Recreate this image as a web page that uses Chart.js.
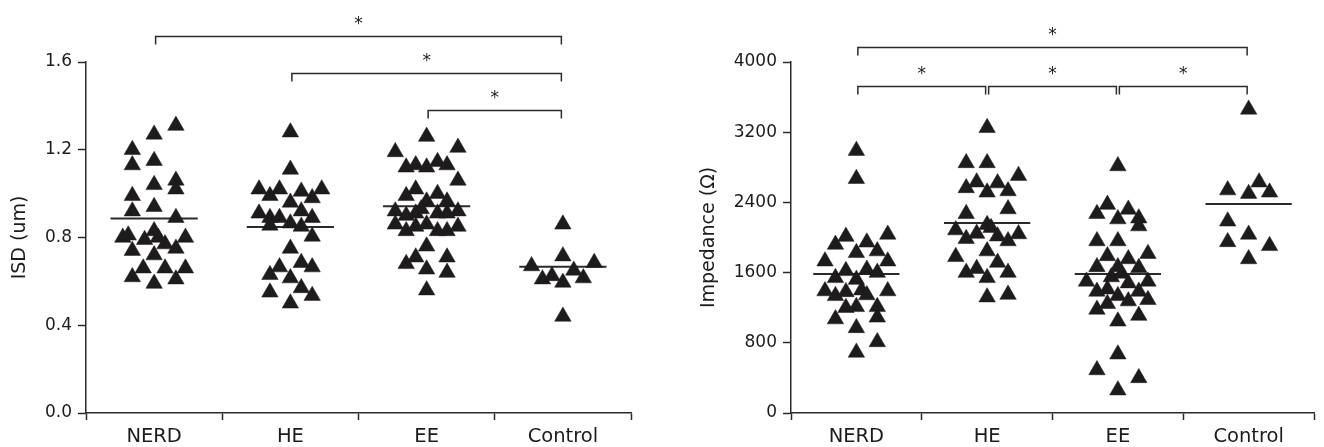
<!DOCTYPE html>
<html><head><meta charset="utf-8">
<script src="https://cdn.jsdelivr.net/npm/chart.js@4"></script>
<style>
html,body{margin:0;padding:0;background:#fff;}
#wrap{position:relative;width:1324px;height:447px;overflow:hidden;}
canvas{position:absolute;top:0;}
#c1{left:0;} #c2{left:650px;}
</style></head><body>
<div id="wrap"><canvas id="c1" width="650" height="447"></canvas><canvas id="c2" width="674" height="447"></canvas></div>
<script>
// ---------- data ----------
const categories = ['NERD', 'HE', 'EE', 'Control'];

// Left panel: ISD (um)  — values and horizontal jitter (in category units)
const isdNerdY = [1.31,1.27,1.20,1.15,1.13,1.04,1.06,1.02,0.99,0.94,0.92,0.89,0.80,0.81,0.74,0.83,0.79,0.80,0.77,0.75,0.80,0.72,0.66,0.66,0.66,0.62,0.61,0.59];
const isdNerdX = [0.16,0,-0.16,0,-0.16,0,0.16,0.16,-0.16,0,-0.16,0.16,-0.23,-0.19,-0.16,0,-0.07,0.03,0.08,0.16,0.23,0,-0.08,0.08,0.23,-0.16,0.16,0];
const isdHeY = [1.28,1.11,1.02,1.02,1.01,1.02,0.99,0.98,0.96,0.91,0.92,0.89,0.89,0.89,0.855,0.865,0.85,0.805,0.75,0.665,0.685,0.665,0.63,0.615,0.55,0.57,0.535,0.50];
const isdHeX = [0,0,-0.23,-0.08,0.08,0.23,-0.15,0.16,0,-0.23,0.08,-0.15,-0.08,0.16,-0.15,0,0.08,0.16,0,-0.08,0.08,0.16,-0.15,0,-0.15,0.08,0.16,0];
const isdEeY = [1.26,1.19,1.21,1.12,1.13,1.12,1.145,1.13,1.06,0.99,1.02,1.0,0.965,0.965,0.92,0.93,0.92,0.90,0.91,0.91,0.91,0.86,0.83,0.85,0.86,0.83,0.83,0.85,0.76,0.71,0.68,0.71,0.655,0.64,0.56];
const isdEeX = [0,-0.23,0.23,-0.15,-0.08,0,0.08,0.15,0.23,-0.15,-0.08,0.08,0,0.15,-0.23,-0.04,0.23,-0.15,-0.08,0.08,0.15,-0.23,-0.15,-0.08,0,0.08,0.15,0.23,0,-0.08,-0.15,0.15,0,0.15,0];
const isdCtrlY = [0.86,0.715,0.67,0.685,0.65,0.61,0.625,0.595,0.615,0.44];
const isdCtrlX = [0,0,-0.23,0.23,0.08,-0.15,-0.08,0,0.15,0];
const isdMeans = [0.887,0.848,0.943,0.667];
const isdTicks = [0,0.4,0.8,1.2,1.6];

// Right panel: Impedance (Ω)
const impNerdY = [2990,2670,2010,1920,1945,2035,1825,1845,1730,1730,1620,1635,1600,1540,1520,1390,1335,1380,1400,1345,1390,1200,1210,1210,1090,1070,970,810,690];
const impNerdX = [0,0,-0.08,-0.16,0.08,0.24,0,0.16,-0.24,0.24,-0.08,0.08,0.16,-0.16,0,-0.24,-0.16,-0.08,0.04,0.08,0.24,-0.08,0,0.16,0.16,-0.16,0,0.16,0];
const impHeY = [3250,2850,2850,2705,2630,2620,2565,2515,2530,2325,2270,2085,2145,2110,2045,1985,2015,1960,2040,1845,1780,1715,1600,1645,1540,1600,1320,1350];
const impHeX = [0,-0.16,0,0.24,-0.08,0.08,-0.16,0,0.16,0.16,-0.16,-0.24,0,0.03,-0.08,-0.16,0.08,0.16,0.24,0,-0.24,0.08,-0.16,-0.08,0,0.16,0,0.16];
const impEeY = [2815,2375,2270,2320,2210,2220,2130,1960,1960,1790,1755,1815,1665,1665,1655,1500,1550,1590,1480,1500,1385,1410,1335,1385,1245,1275,1290,1180,1110,1045,670,490,400,260];
const impEeX = [0,-0.08,-0.16,0.08,0,0.16,0.16,-0.16,0,-0.08,0.08,0.23,-0.16,0,0.16,-0.24,-0.05,0.03,0.08,0.23,-0.16,-0.08,0,0.16,-0.08,0.08,0.23,-0.16,0.16,0,0,-0.16,0.16,0];
const impCtrlY = [3460,2630,2540,2500,2515,2185,2035,1950,1905,1755];
const impCtrlX = [0,0.08,-0.16,0,0.16,-0.16,0,-0.16,0.16,0];
const impMeans = [1584,2165,1584,2382];
const impTicks = [0,800,1600,2400,3200,4000];

// significance brackets: [from category, to category, level in data units]
const isdBrackets = [[1,4,1.72],[2,4,1.551],[3,4,1.382]];
const impBrackets = [[1,4,4167],[1,2,3730],[2,3,3730],[3,4,3730]];

// ---------- drawing ----------
const FAMILY = "'DejaVu Sans', sans-serif";
const INK = '#1e1b1c';
const LINE = '#2b2b2b';

function pointsDataset(xs, ys, cat) {
  return {
    data: ys.map((y, i) => ({x: cat + 1 + xs[i], y})),
    pointStyle: 'triangle', pointRadius: 9.5, pointHoverRadius: 9.5,
    backgroundColor: INK, borderColor: INK, borderWidth: 0.5, showLine: false
  };
}
function meanDataset(m, cat, half) {
  return {
    data: [{x: cat + 1 - half, y: m}, {x: cat + 1 + half, y: m}],
    showLine: true, pointRadius: 0, pointHoverRadius: 0,
    borderColor: LINE, borderWidth: 2, fill: false
  };
}
function bracketPlugin(items) {
  return {
    id: 'brackets',
    afterDraw(chart) {
      const {ctx, scales: {x, y}} = chart;
      ctx.save();
      ctx.strokeStyle = LINE; ctx.lineWidth = 1.5;
      ctx.fillStyle = INK; ctx.font = '17px ' + FAMILY;
      ctx.textAlign = 'center'; ctx.textBaseline = 'alphabetic';
      items.forEach(([a, b, lvl]) => {
        const x1 = x.getPixelForValue(a) + 1.5;
        const x2 = x.getPixelForValue(b) - 1.5;
        const yy = Math.round(y.getPixelForValue(lvl)) + 0.5;
        ctx.beginPath();
        ctx.moveTo(x1, yy + 8); ctx.lineTo(x1, yy); ctx.lineTo(x2, yy); ctx.lineTo(x2, yy + 8);
        ctx.stroke();
        ctx.fillText('*', (x1 + x2) / 2, yy - 8);
      });
      ctx.restore();
    }
  };
}
function xScale() {
  return {
    type: 'linear', min: 0.5, max: 4.5,
    afterFit(s) { s.height = 34; },
    border: {display: true, color: LINE, width: 1.5},
    grid: {drawOnChartArea: false, drawTicks: true, tickLength: 7, tickWidth: 1.5,
      tickColor: (c) => (c.tick && Number.isInteger(c.tick.value)) ? 'rgba(0,0,0,0)' : LINE},
    ticks: {stepSize: 0.5, autoSkip: false, maxRotation: 0, minRotation: 0, padding: 5, color: INK,
      font: {family: FAMILY, size: 19.5},
      callback: (v) => Number.isInteger(v) ? categories[v - 1] : ''}
  };
}
function yScale(ticks, title, titleSize, titlePad, width, fmt) {
  return {
    type: 'linear', min: ticks[0], max: ticks[ticks.length - 1],
    afterBuildTicks(s) { s.ticks = ticks.map(v => ({value: v})); },
    afterFit(s) { s.width = width; },
    border: {display: true, color: LINE, width: 1.5},
    grid: {drawOnChartArea: false, drawTicks: true, tickLength: 8, tickWidth: 1.5, tickColor: LINE},
    ticks: {padding: 6, color: INK, font: {family: FAMILY, size: 17}, callback: fmt},
    title: {display: true, text: title, color: INK, font: {family: FAMILY, size: titleSize, lineHeight: 1.2},
      padding: {top: titlePad, bottom: 0}}
  };
}
function makeChart(id, groups, means, half, ticks, title, titleSize, titlePad, yWidth, padRight, fmt, brackets) {
  const datasets = [];
  groups.forEach(([xs, ys], i) => datasets.push(pointsDataset(xs, ys, i)));
  means.forEach((m, i) => datasets.push(meanDataset(m, i, half)));
  return new Chart(document.getElementById(id), {
    type: 'scatter',
    data: {datasets},
    options: {
      responsive: false, animation: false, devicePixelRatio: 1,
      events: [],
      layout: {padding: {top: 62, left: 0, right: padRight, bottom: 0}},
      plugins: {legend: {display: false}, tooltip: {enabled: false}},
      scales: {x: xScale(), y: yScale(ticks, title, titleSize, titlePad, yWidth, fmt)}
    },
    plugins: [bracketPlugin(brackets)]
  });
}

makeChart('c1',
  [[isdNerdX, isdNerdY], [isdHeX, isdHeY], [isdEeX, isdEeY], [isdCtrlX, isdCtrlY]],
  isdMeans, 0.32, isdTicks, 'ISD (um)', 19, 9, 86, 19, (v) => Number(v).toFixed(1), isdBrackets);

makeChart('c2',
  [[impNerdX, impNerdY], [impHeX, impHeY], [impEeX, impEeY], [impCtrlX, impCtrlY]],
  impMeans, 0.33, impTicks, 'Impedance (Ω)', 19, 48, 141, 5, (v) => String(v), impBrackets);
</script>
</body></html>
